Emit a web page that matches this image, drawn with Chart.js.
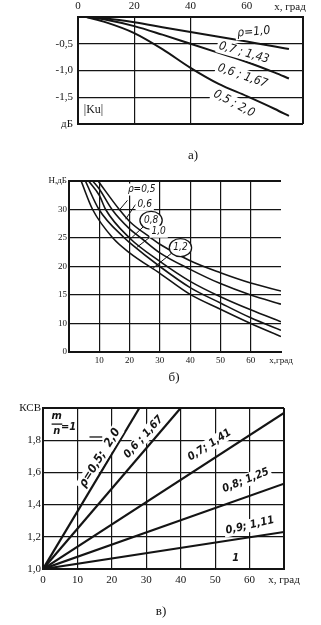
<!DOCTYPE html>
<html lang="ru">
<head>
<meta charset="UTF-8">
<title>Графики |Ku|, H, КСВ</title>
<script src="https://cdn.jsdelivr.net/npm/chart.js"></script>
<style>
  body { margin: 0; width: 321px; height: 625px; background: #fff; position: relative; overflow: hidden; font-family: "Liberation Serif", serif; color: #111; }
  canvas { position: absolute; left: 0; }
  .cap { position: absolute; font-size: 13px; transform: translate(-50%, -50%); }
</style>
</head>
<body>

<canvas id="chartA" width="321" height="140" style="top:0"></canvas>
<canvas id="chartB" width="321" height="230" style="top:160px"></canvas>
<canvas id="chartC" width="321" height="235" style="top:390px"></canvas>

<div class="cap" style="left:193px;top:155px">а)</div>
<div class="cap" style="left:174px;top:377px">б)</div>
<div class="cap" style="left:161px;top:611px">в)</div>

<script>
// --- а) |Ku|, дБ от x, град
const angA = [3, 10, 20, 30, 40, 50, 60, 70, 75];
const kuRho10 = [0, 0, 0, 0, 0, 0, 0, 0, 0];
const kuRho07 = [0, -0.03, -0.1, -0.19, -0.28, -0.37, -0.46, -0.55, -0.6];
const kuRho06 = [0, -0.05, -0.17, -0.33, -0.5, -0.67, -0.84, -1.04, -1.15];
const kuRho05 = [0, -0.1, -0.3, -0.6, -0.95, -1.25, -1.48, -1.72, -1.85];
const ticksAX = [0, 20, 40, 60, 80];
const labelsAX = ['0', '20', '40', '60', ''];
const ticksAY = [0, -0.5, -1, -1.5, -2];
const labelsAY = ['', '-0,5', '-1,0', '-1,5', 'дБ'];

// --- б) H, дБ от x, град
const hAng05 = [9.6, 16.6, 20, 27.1, 30, 40, 50, 60, 70];
const hRho05 = [35, 30, 27.9, 25, 23.9, 21.0, 18.9, 17.1, 15.7];
const hAng06 = [7.8, 10, 14.2, 20, 23.8, 30, 40, 50, 60, 70];
const hRho06 = [35, 33.6, 30, 26.6, 25, 22.4, 19.5, 17.0, 15.0, 13.4];
const hAng08 = [6.5, 10, 12.1, 20, 30, 40, 50, 60, 70];
const hRho08 = [35, 32.5, 30, 25.0, 20.9, 17.4, 14.7, 12.4, 10.3];
const hAng10 = [5.4, 9.9, 18.3, 20, 30, 40, 50, 60, 70];
const hRho10 = [35, 30, 25, 24.2, 20.0, 16.3, 13.6, 11.0, 8.8];
const hAng12 = [4.0, 7.8, 14.5, 20, 30, 40, 50, 60, 70];
const hRho12 = [35, 30, 25, 22.4, 18.8, 15.1, 12.5, 10.0, 7.7];
const ticksBX = [0, 10, 20, 30, 40, 50, 60, 70];
const labelsBX = ['', '10', '20', '30', '40', '50', '60', 'x,град'];
const ticksBY = [5, 10, 15, 20, 25, 30, 35];
const labelsBY = ['0', '10', '15', '20', '25', '30', 'H,дБ'];

// --- в) КСВ от x, град
const ksvAng05 = [0, 28];   const ksvRho05 = [1, 2.0];
const ksvAng06 = [0, 40];   const ksvRho06 = [1, 2.0];
const ksvAng07 = [0, 70];   const ksvRho07 = [1, 1.97];
const ksvAng08 = [0, 70];   const ksvRho08 = [1, 1.53];
const ksvAng09 = [0, 70];   const ksvRho09 = [1, 1.23];
const ksvAng10 = [0, 70];   const ksvRho10 = [1, 1.0];
const ticksCX = [0, 10, 20, 30, 40, 50, 60, 70];
const labelsCX = ['0', '10', '20', '30', '40', '50', '60', 'x, град'];
const ticksCY = [1.0, 1.2, 1.4, 1.6, 1.8, 2.0];
const labelsCY = ['1,0', '1,2', '1,4', '1,6', '1,8', 'КСВ'];

const INK = '#141414';
const SERIF = '"Liberation Serif", "DejaVu Serif", serif';
const HAND = '"DejaVu Sans Condensed", "Liberation Sans Narrow", "DejaVu Sans", sans-serif';

function pts(xs, ys) { return xs.map((v, i) => ({ x: v, y: ys[i] })); }

function curve(xs, ys, w, smooth) {
  return {
    data: pts(xs, ys), borderColor: INK, borderWidth: w, pointRadius: 0,
    fill: false, cubicInterpolationMode: smooth ? 'monotone' : 'default', tension: 0
  };
}

// надписи, выноски и овалы поверх графиков
const notes = {
  id: 'notes',
  afterDatasetsDraw(chart, args, opts) {
    const { ctx } = chart;
    const sx = chart.scales.x, sy = chart.scales.y;
    ctx.save();
    ctx.strokeStyle = INK;
    ctx.fillStyle = INK;
    (opts.lines || []).forEach(l => {
      ctx.lineWidth = l.w || 1;
      ctx.beginPath();
      ctx.moveTo(sx.getPixelForValue(l.x1), sy.getPixelForValue(l.y1));
      ctx.lineTo(sx.getPixelForValue(l.x2), sy.getPixelForValue(l.y2));
      ctx.stroke();
    });
    (opts.texts || []).forEach(t => {
      ctx.save();
      ctx.translate(sx.getPixelForValue(t.x), sy.getPixelForValue(t.y));
      ctx.rotate((t.rot || 0) * Math.PI / 180);
      ctx.font = t.font;
      ctx.textAlign = 'center';
      ctx.textBaseline = 'middle';
      const w = ctx.measureText(t.text).width;
      if (t.bg) {
        ctx.fillStyle = '#fff';
        ctx.fillRect(-w / 2 - 2, -t.size / 2 - 1, w + 4, t.size + 2);
      }
      if (t.ring) {
        ctx.fillStyle = '#fff';
        ctx.lineWidth = 1.3;
        ctx.beginPath();
        ctx.ellipse(0, 0, w / 2 + 4, t.size / 2 + 4, 0, 0, Math.PI * 2);
        ctx.fill();
        ctx.stroke();
      }
      ctx.fillStyle = INK;
      ctx.fillText(t.text, 0, 0);
      ctx.restore();
    });
    (opts.bars || []).forEach(b => {
      ctx.lineWidth = b.w || 1.3;
      ctx.beginPath();
      ctx.moveTo(sx.getPixelForValue(b.x1), sy.getPixelForValue(b.y));
      ctx.lineTo(sx.getPixelForValue(b.x2), sy.getPixelForValue(b.y));
      ctx.stroke();
    });
    ctx.restore();
  }
};

function axis(ticks, labels, opt) {
  return {
    type: 'linear',
    position: opt.position,
    min: opt.min, max: opt.max,
    afterBuildTicks: s => { s.ticks = ticks.map(v => ({ value: v })); },
    afterFit: s => { if (opt.width) s.width = opt.width; if (opt.height) s.height = opt.height; },
    ticks: {
      autoSkip: false, maxRotation: 0, padding: opt.pad, color: INK,
      font: { family: SERIF, size: opt.size },
      callback: (v, i) => labels[i]
    },
    grid: {
      drawTicks: false,
      color: ctx => (opt.hide || []).includes(ctx.tick && ctx.tick.value) ? 'rgba(0,0,0,0)' : INK,
      lineWidth: ctx => {
        const v = ctx.tick && ctx.tick.value;
        return (v === opt.min || v === opt.max) ? 2 : 1.2;
      }
    },
    border: { display: true, color: INK, width: 2 }
  };
}

function base(datasets, scales, padding, noteOpts) {
  return {
    type: 'line',
    data: { datasets },
    options: {
      responsive: false, animation: false,
      layout: { padding },
      plugins: { legend: { display: false }, tooltip: { enabled: false }, notes: noteOpts },
      scales
    },
    plugins: [notes]
  };
}

// а)
const fA = 'italic 12px ' + HAND;
new Chart(document.getElementById('chartA'), base(
  [
    curve(angA, kuRho10, 2, true),
    curve(angA, kuRho07, 2, true),
    curve(angA, kuRho06, 2, true),
    curve(angA, kuRho05, 2, true)
  ],
  {
    x: axis(ticksAX, labelsAX, { position: 'top', min: 0, max: 80, height: 17, pad: 4, size: 11, hide: [60] }),
    y: axis(ticksAY, labelsAY, { position: 'left', min: -2, max: 0, width: 78, pad: 5, size: 11 })
  },
  { left: 0, right: 18, top: 0, bottom: 16 },
  {
    texts: [
      { text: 'ρ=1,0', x: 62.5, y: -0.28, rot: -5, font: fA, size: 12, bg: true },
      { text: '0,7 ; 1,43', x: 59, y: -0.67, rot: 16, font: fA, size: 12, bg: true },
      { text: '0,6 ; 1,67', x: 58.5, y: -1.1, rot: 19, font: fA, size: 12, bg: true },
      { text: '0,5 ; 2,0', x: 55.5, y: -1.62, rot: 28, font: fA, size: 12, bg: true },
      { text: '|Ku|', x: 5.5, y: -1.74, rot: 0, font: '12px ' + SERIF, size: 12 },
      { text: 'x, град', x: 75.4, y: 0.19, rot: 0, font: '11px ' + SERIF, size: 11 }
    ]
  }
));

// б)
const fB = 'italic 10px ' + HAND;
new Chart(document.getElementById('chartB'), base(
  [
    curve(hAng05, hRho05, 1.6, true),
    curve(hAng06, hRho06, 1.6, true),
    curve(hAng08, hRho08, 1.6, true),
    curve(hAng10, hRho10, 1.6, true),
    curve(hAng12, hRho12, 1.6, true)
  ],
  {
    x: axis(ticksBX, labelsBX, { position: 'bottom', min: 0, max: 70, height: 20, pad: 3, size: 9, hide: [70] }),
    y: axis(ticksBY, labelsBY, { position: 'left', min: 5, max: 35, width: 69, pad: 2, size: 9 })
  },
  { left: 0, right: 40, top: 21, bottom: 18 },
  {
    lines: [
      { x1: 19.3, y1: 31.6, x2: 16.6, y2: 29.9 },
      { x1: 22.0, y1: 30.9, x2: 18.7, y2: 28.3 },
      { x1: 25.0, y1: 27.2, x2: 19.8, y2: 24.6 },
      { x1: 27.8, y1: 25.6, x2: 22.5, y2: 23.4 },
      { x1: 33.8, y1: 22.3, x2: 27.5, y2: 19.6 }
    ],
    texts: [
      { text: 'ρ=0,5', x: 24.0, y: 33.5, font: fB, size: 10, bg: true },
      { text: '0,6', x: 25.0, y: 30.9, font: fB, size: 10, bg: true },
      { text: '0,8', x: 27.1, y: 28.1, font: fB, size: 10, ring: true },
      { text: '1,0', x: 29.6, y: 26.1, font: fB, size: 10, bg: true },
      { text: '1,2', x: 36.8, y: 23.3, font: fB, size: 10, ring: true }
    ]
  }
));

// в)
const fC = 'italic bold 11px ' + HAND;
new Chart(document.getElementById('chartC'), base(
  [
    curve(ksvAng05, ksvRho05, 2.2, false),
    curve(ksvAng06, ksvRho06, 2.2, false),
    curve(ksvAng07, ksvRho07, 2.2, false),
    curve(ksvAng08, ksvRho08, 2.2, false),
    curve(ksvAng09, ksvRho09, 2.2, false),
    curve(ksvAng10, ksvRho10, 2.2, false)
  ],
  {
    x: axis(ticksCX, labelsCX, { position: 'bottom', min: 0, max: 70, height: 20, pad: 5, size: 11 }),
    y: axis(ticksCY, labelsCY, { position: 'left', min: 1.0, max: 2.0, width: 43, pad: 2, size: 11 })
  },
  { left: 0, right: 37, top: 18, bottom: 36 },
  {
    texts: [
      { text: 'ρ=0,5;  2,0', x: 16.5, y: 1.69, rot: -58, font: 'italic bold 12px ' + HAND, size: 12, bg: true },
      { text: '0,6 ; 1,67', x: 29.2, y: 1.82, rot: -48, font: fC, size: 11, bg: true },
      { text: '0,7; 1,41', x: 48.4, y: 1.77, rot: -33, font: fC, size: 11, bg: true },
      { text: '0,8; 1,25', x: 58.9, y: 1.55, rot: -22, font: fC, size: 11, bg: true },
      { text: '0,9; 1,11', x: 60.1, y: 1.27, rot: -13, font: fC, size: 11, bg: true },
      { text: '1', x: 56.0, y: 1.07, font: fC, size: 11 },
      { text: 'm', x: 4.0, y: 1.95, font: fC, size: 11, bg: true },
      { text: 'n', x: 4.0, y: 1.855, font: fC, size: 11 },
      { text: '=1', x: 7.4, y: 1.88, font: fC, size: 11 }
    ],
    bars: [
      { x1: 2.5, x2: 5.6, y: 1.9 },
      { x1: 13.5, x2: 17.2, y: 1.82 }
    ]
  }
));
</script>
</body>
</html>
